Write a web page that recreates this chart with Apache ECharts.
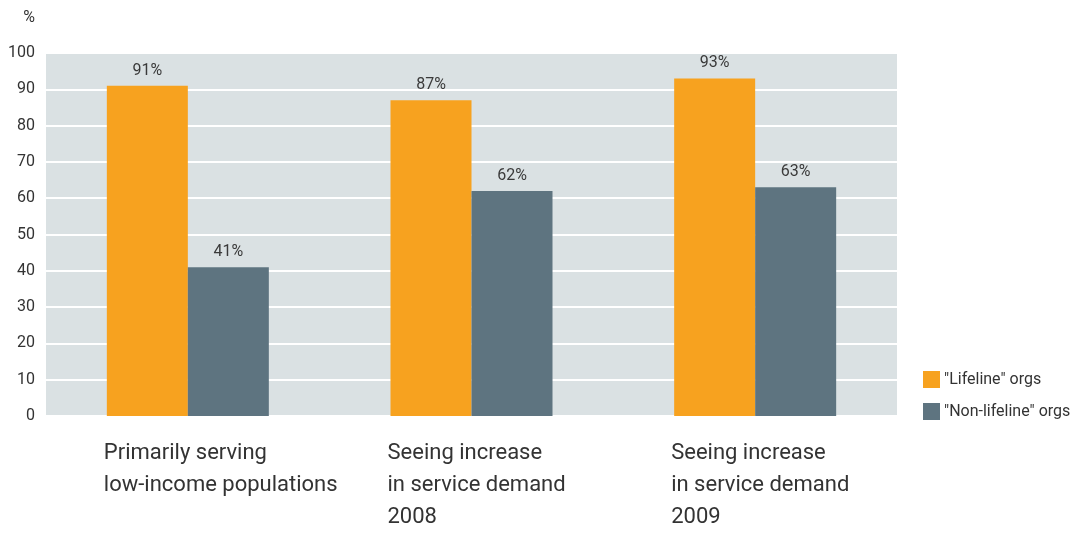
<!DOCTYPE html>
<html>
<head>
<meta charset="utf-8">
<script src="https://cdn.jsdelivr.net/npm/echarts@6/dist/echarts.min.js"></script>
<style>
  html, body { margin: 0; padding: 0; background: #fff; }
  #main { width: 1079px; height: 536px; }
</style>
</head>
<body>
<div id="main"></div>
<script>
var categories = ['Primarily serving\nlow-income populations', 'Seeing increase\nin service demand\n2008', 'Seeing increase\nin service demand\n2009'];
var lifeline = [91, 87, 93];
var nonLifeline = [41, 62, 63];
var seriesNames = ['"Lifeline" orgs', '"Non-lifeline" orgs'];

var font = '"Liberation Sans Narrow", Roboto, sans-serif';

var myChart = echarts.init(document.getElementById('main'));
var option = {
    animation: false,
    textStyle: { fontFamily: font },
    color: ['#f7a21f', '#5e7480'],
    grid: {
        left: 46, right: 182, top: 53, bottom: 120,
        show: true, backgroundColor: '#dae1e3', borderWidth: 0
    },
    legend: {
        orient: 'vertical',
        left: 918, top: 366,
        itemWidth: 17, itemHeight: 17, itemGap: 15,
        icon: 'rect',
        textStyle: { fontSize: 16, color: '#333', fontFamily: font, padding: [0, 0, 0, -1] },
        data: seriesNames
    },
    xAxis: {
        type: 'category',
        data: categories,
        axisLine: { show: false },
        axisTick: { show: false },
        axisLabel: {
            interval: 0,
            align: 'left',
            verticalAlign: 'top',
            padding: [0, 0, 0, -84],
            margin: 21,
            fontSize: 22,
            lineHeight: 32,
            color: '#333',
            fontFamily: font
        }
    },
    yAxis: {
        type: 'value',
        min: 0, max: 100, interval: 10,
        name: '%',
        nameGap: 27,
        nameTextStyle: { fontSize: 16, color: '#333', align: 'right', padding: [0, 11, 0, 0], fontFamily: font },
        axisLine: { show: false },
        axisTick: { show: false },
        axisLabel: { fontSize: 16, color: '#333', margin: 11, fontFamily: font },
        splitLine: { lineStyle: { color: '#ffffff', width: 2 } }
    },
    series: [
        {
            name: seriesNames[0],
            type: 'bar',
            data: lifeline,
            barWidth: 81,
            barGap: '0%',
            label: { show: true, position: 'top', distance: 7, formatter: '{c}%', fontSize: 16, color: '#3a3a3a', fontFamily: font }
        },
        {
            name: seriesNames[1],
            type: 'bar',
            data: nonLifeline,
            barWidth: 81,
            label: { show: true, position: 'top', distance: 7, formatter: '{c}%', fontSize: 16, color: '#3a3a3a', fontFamily: font }
        }
    ]
};
myChart.setOption(option);
</script>
</body>
</html>
